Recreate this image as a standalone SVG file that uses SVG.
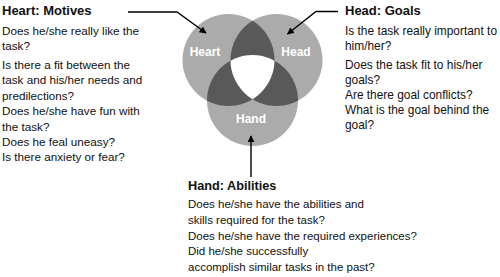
<svg xmlns="http://www.w3.org/2000/svg" width="500" height="277" viewBox="0 0 500 277">
<style>
.title{font-family:"Liberation Sans",Arial,sans-serif;font-weight:bold;font-size:13px;fill:#111}
.body{font-family:"Liberation Sans",Arial,sans-serif;font-size:11.7px;fill:#111}
.lbl{font-family:"Liberation Sans",Arial,sans-serif;font-weight:bold;font-size:12px;fill:#fff;text-anchor:middle}
.light{fill:#ababab}
.dark{fill:#595959}
.conn{stroke:#000;stroke-width:1.4;fill:none}
</style>
<defs>
<clipPath id="cHeart"><circle cx="228.5" cy="60" r="46"/></clipPath>
<clipPath id="cHead"><circle cx="276.5" cy="60" r="46"/></clipPath>
<marker id="arr" viewBox="0 0 10 10" refX="9" refY="5" markerWidth="7" markerHeight="7" markerUnits="userSpaceOnUse" orient="auto">
<path d="M0,0 L10,5 L0,10 z" fill="#000"/>
</marker>
</defs>
<rect width="500" height="277" fill="#fff"/>
<g id="venn">
<circle class="light" cx="228.5" cy="60" r="46"/>
<circle class="light" cx="276.5" cy="60" r="46"/>
<circle class="light" cx="252.5" cy="100.5" r="45.5"/>
<circle class="dark" cx="276.5" cy="60" r="46" clip-path="url(#cHeart)"/>
<circle class="dark" cx="252.5" cy="100.5" r="45.5" clip-path="url(#cHeart)"/>
<circle class="dark" cx="252.5" cy="100.5" r="45.5" clip-path="url(#cHead)"/>
<g clip-path="url(#cHeart)"><circle fill="#fff" cx="252.5" cy="100.5" r="45.5" clip-path="url(#cHead)"/></g>
</g>
<g id="heart"><text class="lbl" x="205" y="56">Heart</text></g>
<g id="head"><text class="lbl" x="296" y="56">Head</text></g>
<g id="hand"><text class="lbl" x="251" y="123">Hand</text></g>
<g id="connectors">
<polyline class="conn" points="128,12 177,12 206,33" marker-end="url(#arr)"/>
<polyline class="conn" points="338,11.5 316,11.5 287.5,34" marker-end="url(#arr)"/>
<line class="conn" x1="251" y1="177" x2="251" y2="136" marker-end="url(#arr)"/>
</g>
<g id="motives">
<text class="title" x="2" y="15">Heart: Motives</text>
<text class="body" x="2" y="34.5">Does he/she really like the</text>
<text class="body" x="2" y="49.5">task?</text>
<text class="body" x="2" y="68.5">Is there a fit between the</text>
<text class="body" x="2" y="84">task and his/her needs and</text>
<text class="body" x="2" y="99.5">predilections?</text>
<text class="body" x="2" y="115">Does he/she have fun with</text>
<text class="body" x="2" y="130.5">the task?</text>
<text class="body" x="2" y="146">Does he feal uneasy?</text>
<text class="body" x="2" y="161">Is there anxiety or fear?</text>
</g>
<g id="goals">
<text class="title" x="345" y="15">Head: Goals</text>
<text class="body" x="345" y="34.5" style="font-size:11.9px">Is the task really important to</text>
<text class="body" x="345" y="49.5" style="font-size:11.9px">him/her?</text>
<text class="body" x="345" y="68.5" style="font-size:11.9px">Does the task fit to his/her</text>
<text class="body" x="345" y="83.5" style="font-size:11.9px">goals?</text>
<text class="body" x="345" y="98.5" style="font-size:11.9px">Are there goal conflicts?</text>
<text class="body" x="345" y="113.5" style="font-size:11.9px">What is the goal behind the</text>
<text class="body" x="345" y="128.5" style="font-size:11.9px">goal?</text>
</g>
<g id="abilities">
<text class="title" x="188" y="189.5" style="font-size:12.7px">Hand: Abilities</text>
<text class="body" x="188" y="208" style="font-size:11.5px">Does he/she have the abilities and</text>
<text class="body" x="188" y="223.5" style="font-size:11.5px">skills required for the task?</text>
<text class="body" x="188" y="239.5" style="font-size:11.5px">Does he/she have the required experiences?</text>
<text class="body" x="188" y="255" style="font-size:11.5px">Did he/she successfully</text>
<text class="body" x="188" y="270.5" style="font-size:11.5px">accomplish similar tasks in the past?</text>
</g>
</svg>
